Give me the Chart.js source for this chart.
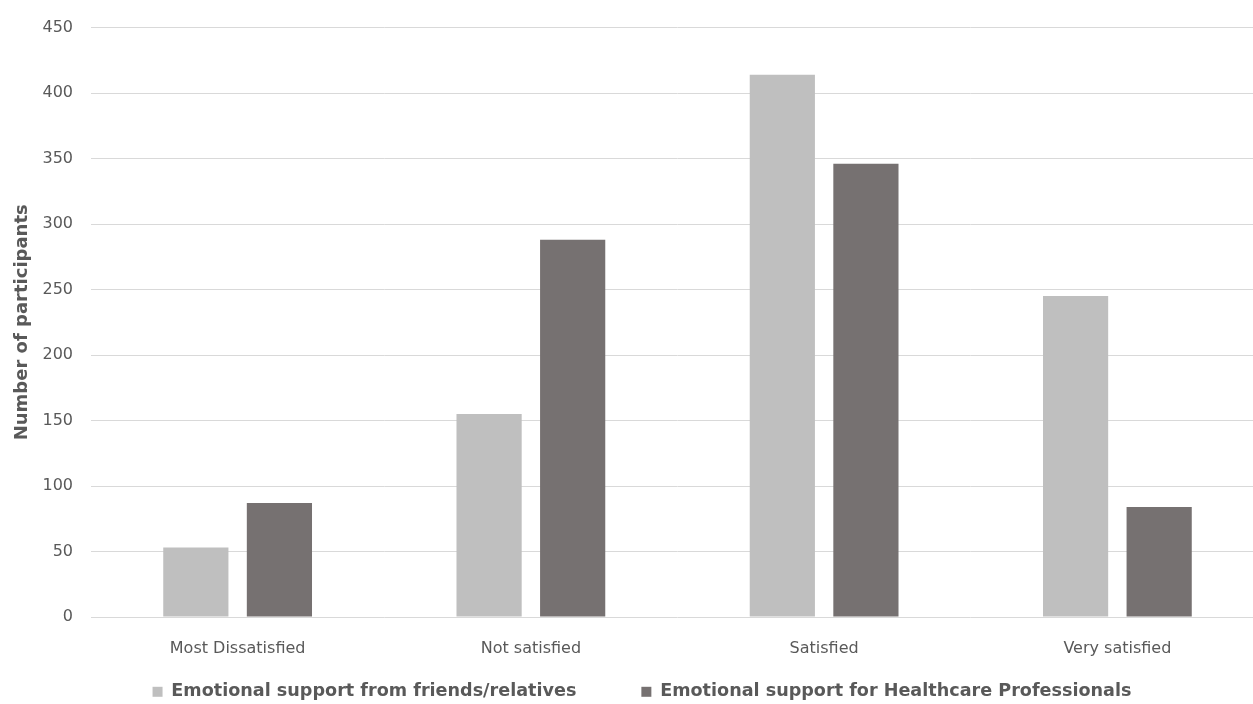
<!DOCTYPE html>
<html>
<head>
<meta charset="utf-8">
<script src="https://cdn.jsdelivr.net/npm/chart.js@4/dist/chart.umd.min.js"></script>
<style>
  html, body { margin: 0; padding: 0; background: #fff; overflow: hidden; }
  #wrap { width: 1253px; height: 704px; overflow: hidden; position: relative; }
  #box { width: 1266px; height: 704px; position: absolute; left: 0; top: 0; }
</style>
</head>
<body>
<div id="wrap"><div id="box"><canvas id="c"></canvas></div></div>
<script>
const categories = ["Most Dissatisfied", "Not satisfied", "Satisfied", "Very satisfied"];
const friendsRelatives = [53, 155, 414, 245];
const healthcarePros = [87, 288, 346, 84];
const seriesNames = ["Emotional support from friends/relatives", "Emotional support for Healthcare Professionals"];
const yTicks = [0, 50, 100, 150, 200, 250, 300, 350, 400, 450];

const textGray = "#595959";
const FONT = "'DejaVu Sans', sans-serif";

// Keep the legend compact in the layout (wide item spacing would otherwise
// reserve a tall band), then place its row just under the category labels.
const legendPlacement = {
  id: "legendPlacement",
  afterInit(chart) {
    const lg = chart.legend;
    const fit = lg.fit.bind(lg);
    lg.fit = function () { fit(); this.height = 33; };
  },
  afterLayout(chart) {
    const lg = chart.legend;
    lg.top = 618;
    lg.bottom = chart.height;
    lg.height = lg.bottom - lg.top;
    lg.left += 7; lg.right += 7;
  }
};

new Chart(document.getElementById("c"), {
  type: "bar",
  data: {
    labels: categories,
    datasets: [
      { label: seriesNames[0], data: friendsRelatives, backgroundColor: "#bfbfbf",
        categoryPercentage: 0.57, barPercentage: 0.78 },
      { label: seriesNames[1], data: healthcarePros, backgroundColor: "#767171",
        categoryPercentage: 0.57, barPercentage: 0.78 }
    ]
  },
  plugins: [legendPlacement],
  options: {
    responsive: true,
    maintainAspectRatio: false,
    animation: false,
    layout: { padding: { left: 6, right: 2, top: 16, bottom: 4 } },
    plugins: {
      tooltip: { enabled: false },
      legend: {
        position: "bottom",
        labels: {
          color: textGray,
          boxWidth: 10, boxHeight: 10,
          padding: 65,
          font: { family: FONT, size: 17.6, weight: "bold" }
        }
      }
    },
    scales: {
      x: {
        grid: { display: false },
        border: { display: false },
        ticks: { color: textGray, font: { family: FONT, size: 16 }, padding: 14 },
        afterFit(s) { s.height = 50; }
      },
      y: {
        min: 0, max: 450,
        afterBuildTicks(s) { s.ticks = yTicks.map(v => ({ value: v })); },
        grid: { color: "#d9d9d9", lineWidth: 1, drawTicks: false },
        border: { display: false },
        ticks: { color: textGray, font: { family: FONT, size: 16 }, padding: 18 },
        title: { display: true, text: "Number of participants", color: textGray,
                 font: { family: FONT, size: 18, weight: "bold" }, padding: 6 },
        afterFit(s) { s.width = 85; }
      }
    }
  }
});
</script>
</body>
</html>
